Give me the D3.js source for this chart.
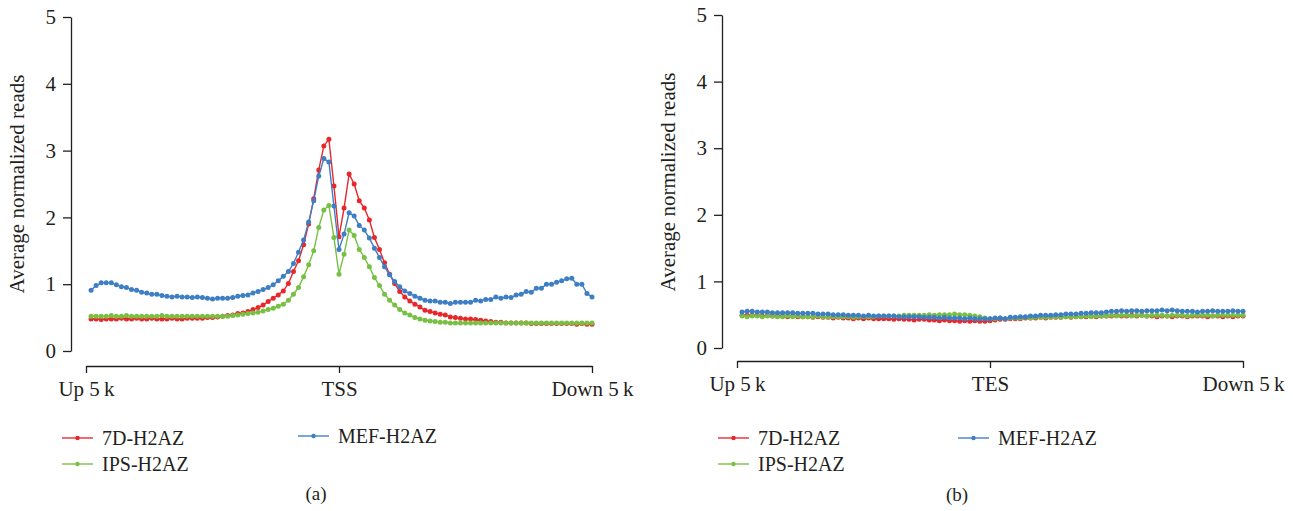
<!DOCTYPE html>
<html>
<head>
<meta charset="utf-8">
<script src="https://cdn.jsdelivr.net/npm/d3@7"></script>
<style>
  html, body { margin: 0; padding: 0; background: #fff; }
  svg text { font-family: "Liberation Serif", "DejaVu Serif", serif; fill: #231f20; }
</style>
</head>
<body>
<svg id="chart" width="1293" height="511"></svg>
<script>
// ---------- DATA ----------
const seriesNames = ["7D-H2AZ", "IPS-H2AZ", "MEF-H2AZ"];
const seriesColors = ["#e8272b", "#77c043", "#3d7ec4"];
const yTicks = [0, 1, 2, 3, 4, 5];
const xTickLabelsA = ["Up 5\u2009k", "TSS", "Down 5\u2009k"];
const xTickLabelsB = ["Up 5\u2009k", "TES", "Down 5\u2009k"];
const xTickPositions = [-5000, 0, 5000];
const captions = ["(a)", "(b)"];
const yLabel = "Average normalized reads";

// Panel (a): TSS profile, 100 bins from Up 5k to Down 5k
const tss7D = [0.48,0.48,0.47,0.48,0.48,0.48,0.49,0.48,0.48,0.49,0.48,0.48,0.49,0.48,0.48,0.48,0.49,0.48,0.48,0.49,
  0.49,0.49,0.49,0.50,0.50,0.51,0.52,0.53,0.54,0.56,0.57,0.59,0.62,0.65,0.69,0.74,0.79,0.84,0.90,1.01,
  1.19,1.35,1.59,1.90,2.28,2.71,3.07,3.17,2.47,1.71,2.14,2.65,2.50,2.25,2.14,1.96,1.70,1.52,1.32,1.15,
  1.01,0.89,0.81,0.75,0.70,0.66,0.61,0.59,0.57,0.55,0.54,0.51,0.50,0.49,0.48,0.48,0.47,0.46,0.45,0.44,
  0.43,0.43,0.42,0.42,0.42,0.42,0.42,0.41,0.41,0.41,0.41,0.41,0.41,0.41,0.41,0.41,0.40,0.41,0.40,0.40];
const tssIPS = [0.52,0.52,0.52,0.52,0.53,0.52,0.52,0.53,0.52,0.52,0.52,0.52,0.52,0.52,0.53,0.52,0.52,0.52,0.52,0.52,
  0.52,0.52,0.52,0.52,0.52,0.52,0.52,0.52,0.53,0.54,0.55,0.56,0.57,0.58,0.60,0.62,0.64,0.67,0.70,0.76,
  0.85,0.95,1.11,1.29,1.50,1.85,2.11,2.18,1.70,1.15,1.45,1.81,1.73,1.52,1.40,1.26,1.10,0.98,0.85,0.76,
  0.69,0.62,0.57,0.54,0.50,0.48,0.46,0.45,0.44,0.43,0.43,0.42,0.42,0.42,0.42,0.42,0.42,0.42,0.42,0.42,
  0.42,0.42,0.42,0.42,0.42,0.42,0.42,0.42,0.42,0.42,0.42,0.42,0.42,0.42,0.42,0.42,0.42,0.42,0.42,0.42];
const tssMEF = [0.91,0.98,1.02,1.02,1.02,0.99,0.96,0.95,0.92,0.91,0.88,0.87,0.85,0.85,0.83,0.82,0.81,0.82,0.81,0.81,
  0.80,0.81,0.80,0.79,0.78,0.79,0.79,0.79,0.80,0.82,0.83,0.84,0.87,0.89,0.92,0.95,0.99,1.05,1.12,1.19,
  1.31,1.48,1.66,1.93,2.25,2.62,2.88,2.83,2.17,1.52,1.75,2.07,2.02,1.88,1.81,1.69,1.54,1.40,1.26,1.14,
  1.04,0.96,0.90,0.86,0.82,0.79,0.76,0.75,0.75,0.73,0.73,0.71,0.73,0.73,0.73,0.73,0.76,0.75,0.77,0.77,
  0.81,0.79,0.81,0.80,0.84,0.85,0.89,0.88,0.94,0.94,1.00,1.00,1.03,1.05,1.08,1.09,1.00,1.00,0.86,0.81];

// Panel (b): TES profile
const tes7D = [0.49,0.49,0.49,0.49,0.48,0.49,0.48,0.48,0.48,0.47,0.48,0.47,0.47,0.47,0.46,0.47,0.46,0.46,0.45,0.46,
  0.45,0.45,0.44,0.45,0.44,0.45,0.44,0.44,0.44,0.44,0.43,0.44,0.43,0.43,0.42,0.43,0.43,0.42,0.42,0.41,
  0.42,0.41,0.41,0.40,0.41,0.40,0.41,0.40,0.40,0.41,0.42,0.43,0.43,0.44,0.44,0.44,0.45,0.45,0.45,0.46,
  0.45,0.46,0.46,0.46,0.47,0.46,0.47,0.47,0.47,0.48,0.47,0.48,0.48,0.48,0.49,0.48,0.48,0.49,0.48,0.49,
  0.48,0.48,0.47,0.48,0.48,0.47,0.48,0.48,0.47,0.48,0.48,0.48,0.47,0.48,0.48,0.47,0.48,0.47,0.48,0.48];
const tesIPS = [0.48,0.47,0.48,0.48,0.47,0.48,0.48,0.47,0.47,0.48,0.47,0.48,0.47,0.47,0.47,0.48,0.47,0.47,0.47,0.47,
  0.47,0.47,0.46,0.47,0.47,0.47,0.47,0.48,0.48,0.48,0.48,0.48,0.49,0.49,0.49,0.49,0.49,0.50,0.49,0.50,
  0.50,0.50,0.51,0.50,0.50,0.49,0.48,0.47,0.45,0.44,0.44,0.45,0.44,0.45,0.45,0.45,0.46,0.45,0.46,0.46,
  0.46,0.46,0.47,0.46,0.47,0.47,0.47,0.47,0.48,0.47,0.48,0.48,0.48,0.49,0.48,0.49,0.49,0.48,0.49,0.49,
  0.48,0.49,0.49,0.49,0.48,0.49,0.49,0.49,0.48,0.49,0.49,0.49,0.49,0.48,0.49,0.49,0.49,0.49,0.49,0.49];
const tesMEF = [0.54,0.55,0.55,0.54,0.54,0.54,0.53,0.53,0.53,0.53,0.53,0.52,0.52,0.52,0.52,0.51,0.51,0.51,0.50,0.50,
  0.50,0.49,0.49,0.49,0.48,0.49,0.48,0.48,0.48,0.48,0.48,0.47,0.47,0.47,0.47,0.47,0.46,0.46,0.46,0.45,
  0.46,0.45,0.45,0.45,0.44,0.45,0.44,0.44,0.44,0.44,0.45,0.45,0.44,0.46,0.46,0.47,0.47,0.48,0.48,0.49,
  0.49,0.49,0.50,0.50,0.51,0.51,0.51,0.52,0.52,0.53,0.53,0.53,0.54,0.55,0.55,0.56,0.55,0.56,0.56,0.55,
  0.56,0.56,0.56,0.57,0.56,0.57,0.56,0.55,0.55,0.55,0.54,0.55,0.55,0.56,0.55,0.55,0.55,0.56,0.55,0.55];

// ---------- DRAW ----------
const svg = d3.select("#chart");
const FONT = 21;
const LEG_FONT = 20;

const panels = [
  { series: [tss7D, tssIPS, tssMEF], xLabels: xTickLabelsA, caption: captions[0],
    yAxisX: 71, yTop: 17, yBottom: 351, xLeft: 86, xRight: 592, xAxisY: 366,
    yLabelX: 19, yLabelY: 184,
    legend: [{x: 62, y: 438}, {x: 62, y: 464}, {x: 298, y: 436}], capX: 316, capY: 500 },
  { series: [tes7D, tesIPS, tesMEF], xLabels: xTickLabelsB, caption: captions[1],
    yAxisX: 722, yTop: 15, yBottom: 348, xLeft: 737, xRight: 1243, xAxisY: 361,
    yLabelX: 670, yLabelY: 182,
    legend: [{x: 718, y: 438}, {x: 718, y: 464}, {x: 958, y: 438}], capX: 957, capY: 501 }
];

panels.forEach(p => {
  const g = svg.append("g");
  const y = d3.scaleLinear().domain([0, 5]).range([p.yBottom, p.yTop]);
  const x = d3.scaleLinear().domain([-5000, 5000]).range([p.xLeft, p.xRight]);

  // y axis
  const ya = g.append("g").attr("transform", `translate(${p.yAxisX},0)`)
    .call(d3.axisLeft(y).tickValues(yTicks).tickFormat(d3.format("d")).tickSize(8).tickSizeOuter(0).tickPadding(7));
  ya.select(".domain").attr("stroke", "#231f20").attr("stroke-width", 1.3);
  ya.selectAll(".tick line").attr("stroke", "#231f20").attr("stroke-width", 1.3);
  ya.selectAll(".tick text").attr("font-size", FONT).attr("font-family", "Liberation Serif").attr("fill", "#231f20");

  // x axis
  const xa = g.append("g").attr("transform", `translate(0,${p.xAxisY})`)
    .call(d3.axisBottom(x).tickValues(xTickPositions).tickFormat((d, i) => p.xLabels[i]).tickSize(7).tickSizeOuter(0).tickPadding(8));
  xa.select(".domain").attr("stroke", "#231f20").attr("stroke-width", 1.3);
  xa.selectAll(".tick line").attr("stroke", "#231f20").attr("stroke-width", 1.3);
  xa.selectAll(".tick text").attr("font-size", FONT).attr("font-family", "Liberation Serif").attr("fill", "#231f20");

  // y label
  g.append("text")
    .attr("transform", `translate(${p.yLabelX},${p.yLabelY}) rotate(-90)`)
    .attr("text-anchor", "middle").attr("dominant-baseline", "middle")
    .attr("font-size", FONT).text(yLabel);

  // series
  const n = p.series[0].length;
  const xpos = i => x(-5000 + (i + 1) * (10000 / n));
  const line = d3.line().x((d, i) => xpos(i)).y(d => y(d));
  p.series.forEach((vals, si) => {
    g.append("path").datum(vals)
      .attr("fill", "none").attr("stroke", seriesColors[si]).attr("stroke-width", 1.4)
      .attr("d", line);
    g.append("g").selectAll("circle").data(vals).join("circle")
      .attr("cx", (d, i) => xpos(i)).attr("cy", d => y(d)).attr("r", 2.5)
      .attr("fill", seriesColors[si]);
  });

  // legend
  seriesNames.forEach((name, si) => {
    const L = p.legend[si];
    g.append("line").attr("x1", L.x).attr("x2", L.x + 31).attr("y1", L.y).attr("y2", L.y)
      .attr("stroke", seriesColors[si]).attr("stroke-width", 1.6).attr("opacity", 0.85);
    g.append("circle").attr("cx", L.x + 15.5).attr("cy", L.y).attr("r", 2.2).attr("fill", seriesColors[si]);
    g.append("text").attr("x", L.x + 40).attr("y", L.y).attr("dominant-baseline", "central")
      .attr("font-size", LEG_FONT).text(name);
  });

  // caption
  g.append("text").attr("x", p.capX).attr("y", p.capY).attr("text-anchor", "middle")
    .attr("font-size", LEG_FONT - 1).text(p.caption);
});
</script>
</body>
</html>
